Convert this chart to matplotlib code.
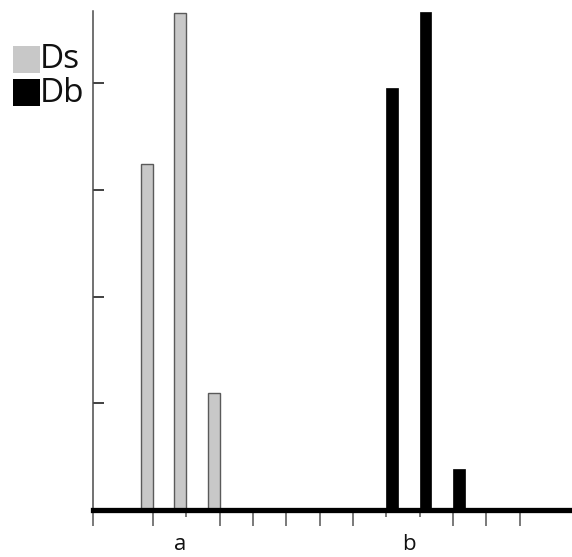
import matplotlib.pyplot as plt
from matplotlib.patches import Rectangle

# values (y tick spacing = 1 unit)
ds_values = [3.24, 4.66, 1.09]
db_values = [3.96, 4.67, 0.38]
series_names = ["Ds", "Db"]
group_labels = ["a", "b"]

ds_slots = [1.8, 2.8, 3.8]     # right edges of the Ds bars
db_slots = [8.8, 9.8, 10.8]    # left edges of the Db bars
long_ticks = [0, 1.8, 3.8, 4.8, 5.8, 6.8, 7.8, 10.8, 11.8, 12.8]
short_ticks = [2.8, 8.8, 9.8]
group_pos = [2.62, 9.47]

W, H = 572, 557
fig = plt.figure(figsize=(W / 100, H / 100), dpi=100)

left, right, bottom, top = 93, 572, 509.5, 11
ax = fig.add_axes((left / W, (H - bottom) / H, (right - left) / W, (bottom - top) / H))
ax.set_xlim(0, (right - left) / 33.33)
ax.set_ylim(0, (bottom - top) / 106.5)

ax.bar(ds_slots, ds_values, width=-0.36, align="edge",
       color="#c8c8c8", edgecolor="#5a5a5a", linewidth=1.0, zorder=2)
ax.bar(db_slots, db_values, width=0.35, align="edge",
       color="black", edgecolor="black", linewidth=0.5, zorder=2)

for s in ["top", "right"]:
    ax.spines[s].set_visible(False)
ax.spines["bottom"].set_linewidth(3.8)
ax.spines["bottom"].set_color("black")
ax.spines["bottom"].set_zorder(3)
ax.spines["left"].set_linewidth(1.1)
ax.spines["left"].set_color("#4a4a4a")

ax.set_xticks(long_ticks)
ax.set_xticks(short_ticks, minor=True)
ax.tick_params(axis="x", which="major", direction="out", length=11.5,
               width=1.1, color="#555555", labelbottom=False)
ax.tick_params(axis="x", which="minor", direction="out", length=5,
               width=1.1, color="#555555", labelbottom=False)
ax.set_yticks([1, 2, 3, 4])
ax.tick_params(axis="y", direction="in", length=8, width=1.3,
               color="#333333", labelleft=False)

for lbl, pos in zip(group_labels, group_pos):
    ax.text(pos, -0.33, lbl, ha="center", va="center", fontsize=16,
            family="Open Sans", color="#111111")

# legend drawn at the upper left of the figure
colors = ["#c8c8c8", "black"]
for i, (name, c) in enumerate(zip(series_names, colors)):
    y_top = 46 + i * 33
    fig.add_artist(Rectangle((13 / W, (H - y_top - 27) / H), 27 / W, 27 / H,
                             transform=fig.transFigure, color=c, lw=0))
    fig.text(40 / W, (H - y_top - 14) / H, name, ha="left", va="center",
             fontsize=24, family="Open Sans", color="#111111")

fig.savefig("out.png", dpi=100)
